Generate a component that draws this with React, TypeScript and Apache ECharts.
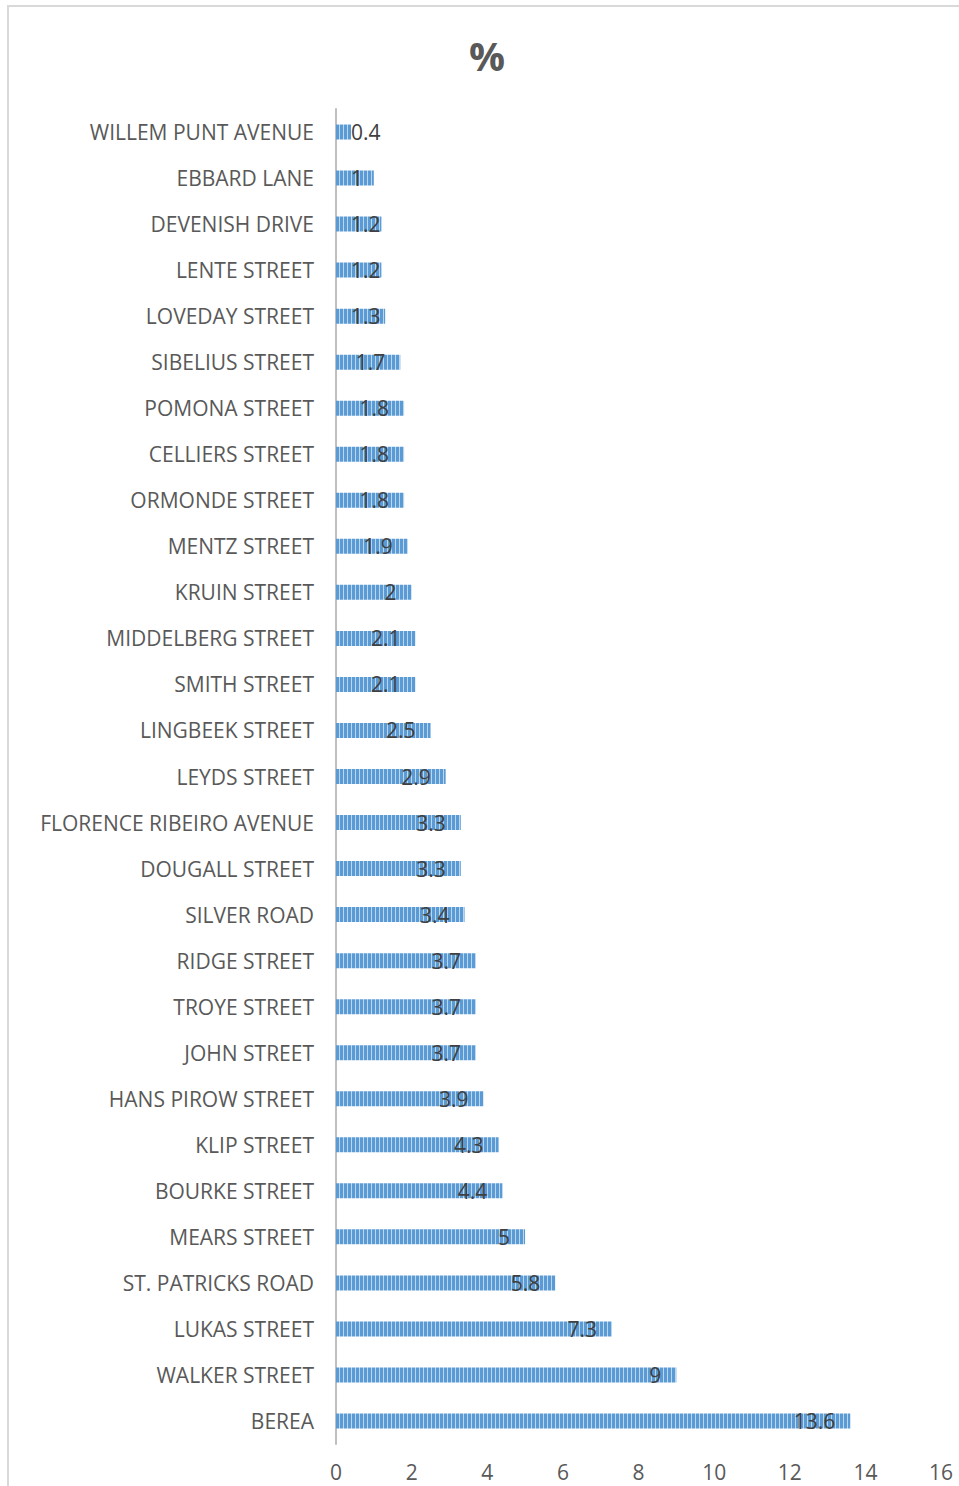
import React, { useEffect, useRef } from "react";
import * as echarts from "echarts";

const categories = [
  "WILLEM PUNT AVENUE", "EBBARD LANE", "DEVENISH DRIVE", "LENTE STREET", "LOVEDAY STREET",
  "SIBELIUS STREET", "POMONA STREET", "CELLIERS STREET", "ORMONDE STREET", "MENTZ STREET",
  "KRUIN STREET", "MIDDELBERG STREET", "SMITH STREET", "LINGBEEK STREET", "LEYDS STREET",
  "FLORENCE RIBEIRO AVENUE", "DOUGALL STREET", "SILVER ROAD", "RIDGE STREET", "TROYE STREET",
  "JOHN STREET", "HANS PIROW STREET", "KLIP STREET", "BOURKE STREET", "MEARS STREET",
  "ST. PATRICKS ROAD", "LUKAS STREET", "WALKER STREET", "BEREA",
];
const values = [
  0.4, 1, 1.2, 1.2, 1.3, 1.7, 1.8, 1.8, 1.8, 1.9, 2, 2.1, 2.1, 2.5, 2.9, 3.3, 3.3, 3.4,
  3.7, 3.7, 3.7, 3.9, 4.3, 4.4, 5, 5.8, 7.3, 9, 13.6,
];
const xTicks = { min: 0, max: 16, interval: 2 };
const title = "%";

function makePattern() {
  const c = document.createElement("canvas");
  c.width = 4;
  c.height = 2;
  const ctx = c.getContext("2d")!;
  ctx.fillStyle = "#5b9bd5";
  ctx.fillRect(0, 0, 3, 2);
  ctx.fillStyle = "#bcd6ee";
  ctx.fillRect(3, 0, 1, 2);
  return c;
}

export default function App() {
  const ref = useRef<HTMLDivElement>(null);
  useEffect(() => {
    document.body.style.margin = "0";
    const chart = echarts.init(ref.current!, undefined, { renderer: "svg" });
    const pattern = makePattern();
    const font = "Open Sans";
    chart.setOption({
      animation: false,
      backgroundColor: "#ffffff",
      title: {
        text: title,
        left: 482,
        top: 30,
        textAlign: "center",
        textStyle: { fontFamily: font, fontSize: 40, fontWeight: "bold", color: "#595959" },
      },
      graphic: [
        {
          type: "rect",
          shape: { x: 8, y: 6, width: 1000, height: 1600 },
          style: { fill: "none", stroke: "#d9d9d9", lineWidth: 2 },
          silent: true,
        },
      ],
      grid: { left: 336, right: 18, top: 109, height: 1335 },
      xAxis: {
        type: "value",
        min: xTicks.min,
        max: xTicks.max,
        interval: xTicks.interval,
        axisLine: { show: false },
        axisTick: { show: false },
        splitLine: { show: false },
        axisLabel: { fontFamily: font, fontSize: 21, lineHeight: 21, color: "#595959", margin: 17 },
      },
      yAxis: {
        type: "category",
        data: categories,
        inverse: true,
        axisLine: { show: true, lineStyle: { color: "#bfbfbf", width: 2 } },
        axisTick: { show: false },
        axisLabel: { fontFamily: font, fontSize: 21, color: "#595959", margin: 22 },
      },
      series: [
        {
          type: "bar",
          barWidth: 15,
          data: values.map((v) => ({
            value: v,
            label: { position: v < 1.6 ? "insideLeft" : "insideRight" },
          })),
          itemStyle: { color: { image: pattern, repeat: "repeat" } },
          label: {
            show: true,
            distance: 15,
            fontFamily: font,
            fontSize: 21,
            color: "#404040",
          },
        },
      ],
    });
    return () => chart.dispose();
  }, []);
  return <div ref={ref} style={{ width: 959, height: 1486 }} />;
}
